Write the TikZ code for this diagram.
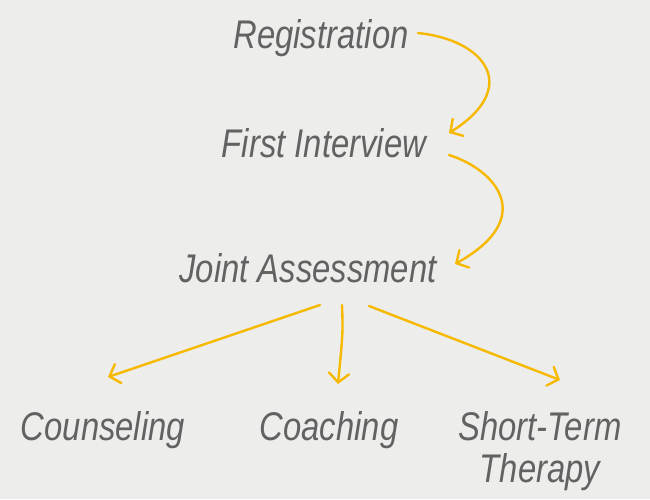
\documentclass[tikz,border=0pt]{standalone}
\usepackage{fontspec}
\newfontfamily\hand[FakeStretch=0.82]{Liberation Sans}
\usetikzlibrary{arrows.meta,calc}
\definecolor{bg}{HTML}{EDEDEB}
\definecolor{ink}{HTML}{626262}
\definecolor{arr}{HTML}{F7B800}
\begin{document}
\begin{tikzpicture}[x=1pt,y=-1pt,
  lbl/.style={anchor=base,inner sep=0pt,text=ink,font=\hand\itshape\fontsize{40}{42}\selectfont,align=center},
  con/.style={draw=arr,line width=2.4pt,line cap=round,-{Straight Barb[length=9pt,width=20pt,line cap=round]}}]
\fill[bg] (0,0) rectangle (650,499);
\useasboundingbox (0,0) rectangle (650,499);
\node[lbl] (reg) at (321,48) {Registration};
\node[lbl] (fi) at (324,157) {First Interview};
\node[lbl] (ja) at (308,282) {Joint Assessment};
\node[lbl] (cou) at (103,440) {Counseling};
\node[lbl] (coa) at (329,440) {Coaching};
\node[lbl] (stt) at (540,482) {Short-Term\\Therapy};
\draw[con] ($(reg.base)+(97,-15)$) .. controls ($(reg.base)+(165,-8)$) and ($(reg.base)+(200,40)$) .. ($(fi.base)+(125,-24)$);
\draw[con] ($(fi.base)+(125,-2)$) .. controls ($(fi.base)+(170,12)$) and ($(fi.base)+(215,60)$) .. ($(ja.base)+(147,-18)$);
\draw[con] ($(ja.base)+(12,23)$) -- ($(cou.base)+(5,-63)$);
\draw[con] ($(ja.base)+(34,23)$) .. controls ($(ja.base)+(35,50)$) .. ($(coa.base)+(9,-56)$);
\draw[con] ($(ja.base)+(61,24)$) -- ($(stt.base)+(20,-102)$);
\end{tikzpicture}
\end{document}
